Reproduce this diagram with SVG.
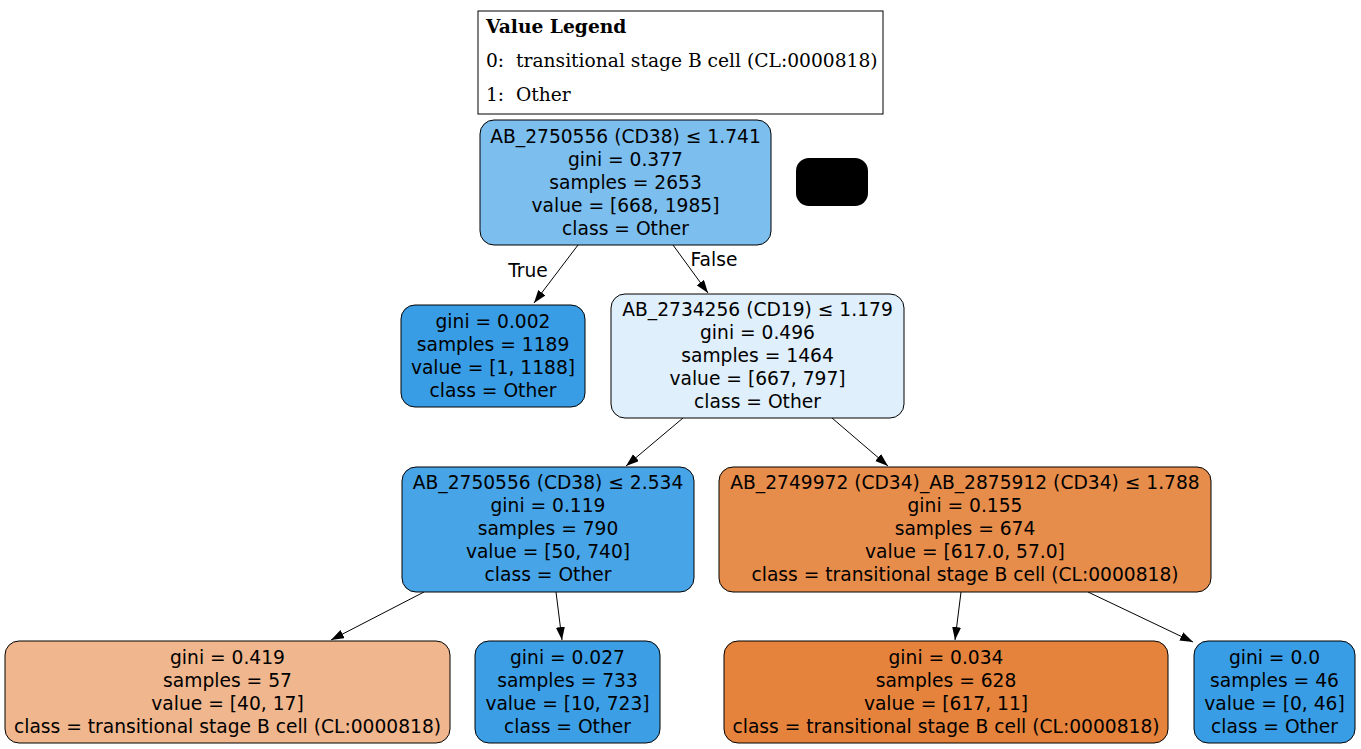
<svg xmlns="http://www.w3.org/2000/svg" width="1361" height="749" viewBox="0 0 1361 749">
<style>
.n{stroke:#000;stroke-width:1}
.t{font-family:"DejaVu Sans",sans-serif;font-size:18.67px;text-anchor:middle;fill:#000}
.lg{font-family:"DejaVu Serif",serif;font-size:18.67px;fill:#000;white-space:pre}
.e{stroke:#000;stroke-width:1;fill:none;marker-end:url(#ah)}
</style>
<defs>
<marker id="ah" markerUnits="userSpaceOnUse" markerWidth="14" markerHeight="10" refX="13" refY="4.5" orient="auto">
<path d="M0,0 L13,4.5 L0,9 z" fill="#000"/>
</marker>
</defs>
<rect width="1361" height="749" fill="#fff"/>
<g id="legend">
<rect x="478" y="11" width="405" height="103" fill="#fff" stroke="#000" stroke-width="1"/>
<text class="lg" x="486" y="33" font-weight="bold">Value Legend</text>
<text class="lg" x="486" y="67">0:  transitional stage B cell (CL:0000818)</text>
<text class="lg" x="486" y="101">1:  Other</text>
</g>
<g id="edges">
<line class="e" x1="578" y1="245" x2="534" y2="303"/>
<line class="e" x1="673" y1="245" x2="708" y2="293"/>
<text class="t" x="528" y="277">True</text>
<text class="t" x="714" y="266">False</text>
<line class="e" x1="683" y1="418" x2="626" y2="466"/>
<line class="e" x1="832" y1="418" x2="888" y2="466"/>
<line class="e" x1="424" y1="592" x2="331" y2="640"/>
<line class="e" x1="556" y1="592" x2="562" y2="640"/>
<line class="e" x1="961" y1="592" x2="955" y2="640"/>
<line class="e" x1="1088" y1="592" x2="1193" y2="642"/>
</g>
<g id="node0">
<rect class="n" x="480" y="120" width="291" height="125" rx="14" fill="#7cbeee"/>
<text class="t" x="625.5" y="143">AB_2750556 (CD38) ≤ 1.741</text>
<text class="t" x="625.5" y="166">gini = 0.377</text>
<text class="t" x="625.5" y="189">samples = 2653</text>
<text class="t" x="625.5" y="212">value = [668, 1985]</text>
<text class="t" x="625.5" y="235">class = Other</text>
</g>
<g id="blob">
<rect x="796" y="158" width="72" height="48" rx="13" fill="#000"/>
</g>
<g id="node1">
<rect class="n" x="401" y="305" width="184" height="102" rx="14" fill="#399de5"/>
<text class="t" x="493" y="328">gini = 0.002</text>
<text class="t" x="493" y="351">samples = 1189</text>
<text class="t" x="493" y="374">value = [1, 1188]</text>
<text class="t" x="493" y="397">class = Other</text>
</g>
<g id="node2">
<rect class="n" x="611" y="294" width="293" height="124" rx="14" fill="#dfeffb"/>
<text class="t" x="757.5" y="316">AB_2734256 (CD19) ≤ 1.179</text>
<text class="t" x="757.5" y="339">gini = 0.496</text>
<text class="t" x="757.5" y="362">samples = 1464</text>
<text class="t" x="757.5" y="385">value = [667, 797]</text>
<text class="t" x="757.5" y="408">class = Other</text>
</g>
<g id="node3">
<rect class="n" x="402" y="467" width="292" height="125" rx="14" fill="#46a4e7"/>
<text class="t" x="548" y="489">AB_2750556 (CD38) ≤ 2.534</text>
<text class="t" x="548" y="512">gini = 0.119</text>
<text class="t" x="548" y="535">samples = 790</text>
<text class="t" x="548" y="558">value = [50, 740]</text>
<text class="t" x="548" y="581">class = Other</text>
</g>
<g id="node4">
<rect class="n" x="719" y="467" width="492" height="125" rx="14" fill="#e78d4b"/>
<text class="t" x="965" y="489">AB_2749972 (CD34)_AB_2875912 (CD34) ≤ 1.788</text>
<text class="t" x="965" y="512">gini = 0.155</text>
<text class="t" x="965" y="535">samples = 674</text>
<text class="t" x="965" y="558">value = [617.0, 57.0]</text>
<text class="t" x="965" y="581">class = transitional stage B cell (CL:0000818)</text>
</g>
<g id="node5">
<rect class="n" x="5" y="641" width="445" height="102" rx="14" fill="#f0b68d"/>
<text class="t" x="227.5" y="664">gini = 0.419</text>
<text class="t" x="227.5" y="687">samples = 57</text>
<text class="t" x="227.5" y="710">value = [40, 17]</text>
<text class="t" x="227.5" y="733">class = transitional stage B cell (CL:0000818)</text>
</g>
<g id="node6">
<rect class="n" x="475" y="641" width="185" height="102" rx="14" fill="#3c9ee5"/>
<text class="t" x="567.5" y="664">gini = 0.027</text>
<text class="t" x="567.5" y="687">samples = 733</text>
<text class="t" x="567.5" y="710">value = [10, 723]</text>
<text class="t" x="567.5" y="733">class = Other</text>
</g>
<g id="node7">
<rect class="n" x="724" y="641" width="444" height="102" rx="14" fill="#e5833c"/>
<text class="t" x="946" y="664">gini = 0.034</text>
<text class="t" x="946" y="687">samples = 628</text>
<text class="t" x="946" y="710">value = [617, 11]</text>
<text class="t" x="946" y="733">class = transitional stage B cell (CL:0000818)</text>
</g>
<g id="node8">
<rect class="n" x="1194" y="641" width="161" height="102" rx="14" fill="#399de5"/>
<text class="t" x="1274.5" y="664">gini = 0.0</text>
<text class="t" x="1274.5" y="687">samples = 46</text>
<text class="t" x="1274.5" y="710">value = [0, 46]</text>
<text class="t" x="1274.5" y="733">class = Other</text>
</g>
</svg>
